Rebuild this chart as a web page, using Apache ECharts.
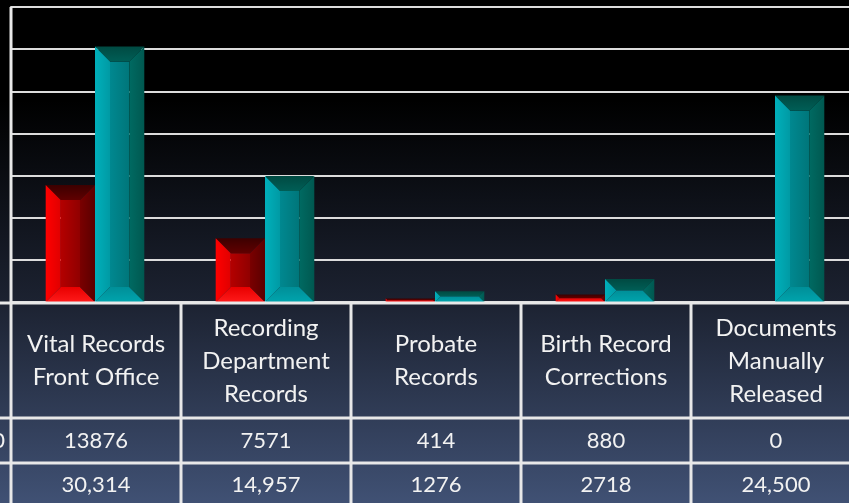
<!DOCTYPE html>
<html>
<head>
<meta charset="utf-8">
<script src="https://cdn.jsdelivr.net/npm/echarts@6/dist/echarts.min.js"></script>
<style>
html, body {margin: 0; padding: 0; background: #000;}
#box1 {width: 849px; height: 503px;}
</style>
</head>
<body>
<div id="box1"></div>
<script>
var categories = ['Vital Records\nFront Office', 'Recording\nDepartment\nRecords', 'Probate\nRecords', 'Birth Record\nCorrections', 'Documents\nManually\nReleased'];
var rowLabels = ['2010', '2011'];
var redValues = [13876, 7571, 414, 880, 0];
var tealValues = [30314, 14957, 1276, 2718, 24500];
var redText = ['13876', '7571', '414', '880', '0'];
var tealText = ['30,314', '14,957', '1276', '2718', '24,500'];

var myChart = echarts.init(document.getElementById('box1'));

function lg(x2, y2, c1, c2) {
    return new echarts.graphic.LinearGradient(0, 0, x2, y2, [{offset: 0, color: c1}, {offset: 1, color: c2}]);
}

var redFaces = {
    top: lg(0, 1, '#3c0000', '#600000'),
    bottom: lg(0, 1, '#e80000', '#ff1a1a'),
    left: lg(1, 0, '#ff0000', '#e00000'),
    right: lg(1, 0, '#7a0000', '#5a0000'),
    center: lg(1, 0, '#b40000', '#900000')
};
var tealFaces = {
    top: lg(0, 1, '#004a42', '#005e56'),
    bottom: lg(0, 1, '#008f98', '#00a4ad'),
    left: lg(1, 0, '#00b0bb', '#009aa4'),
    right: lg(1, 0, '#006a62', '#005850'),
    center: lg(1, 0, '#008890', '#00767a')
};

// bevelled bar, side -1 = left of the category centre, 0 = right
function bevelBar(side, faces) {
    return function (params, api) {
        var val = api.value(1);
        if (!val) return;
        var idx = api.value(0);
        var band = api.size([1, 0])[0];
        var top = api.coord([idx, val]);
        var base = api.coord([idx, 0]);
        var w = band * 0.29;
        var x0 = top[0] - 1 + side * w, x1 = x0 + w;
        var y0 = top[1], y1 = base[1];
        var b = Math.min(15, (y1 - y0) / 2, w / 2);
        function poly(pts, fill) {
            return {type: 'polygon', shape: {points: pts}, style: {fill: fill}};
        }
        return {
            type: 'group',
            children: [
                poly([[x0 + b, y0 + b], [x1 - b, y0 + b], [x1 - b, y1 - b], [x0 + b, y1 - b]], faces.center),
                poly([[x0, y0], [x1, y0], [x1 - b, y0 + b], [x0 + b, y0 + b]], faces.top),
                poly([[x0, y1], [x1, y1], [x1 - b, y1 - b], [x0 + b, y1 - b]], faces.bottom),
                poly([[x0, y0], [x0 + b, y0 + b], [x0 + b, y1 - b], [x0, y1]], faces.left),
                poly([[x1, y0], [x1 - b, y0 + b], [x1 - b, y1 - b], [x1, y1]], faces.right)
            ]
        };
    };
}

var gridLeft = 11, gridTop = 7, gridH = 295, gridW = 850;

option = {
    backgroundColor: new echarts.graphic.LinearGradient(0, 0, 0, 1, [
        {offset: 0, color: '#000000'},
        {offset: 0.2, color: '#000000'},
        {offset: 0.6, color: '#1c2231'},
        {offset: 1, color: '#405174'}
    ]),
    animation: false,
    grid: {left: gridLeft, top: gridTop, width: gridW, height: gridH, outerBoundsMode: 'none', containLabel: false},
    xAxis: {
        type: 'category',
        data: categories,
        axisLine: {show: false},
        axisTick: {show: false},
        axisLabel: {show: false}
    },
    yAxis: {
        type: 'value',
        min: 0,
        max: 35000,
        interval: 5000,
        axisLine: {show: true, lineStyle: {color: '#dcdcdc', width: 2}},
        axisTick: {show: false},
        axisLabel: {show: false},
        splitLine: {show: true, lineStyle: {color: '#dcdcdc', width: 2}}
    },
    series: [
        {
            type: 'custom',
            renderItem: bevelBar(-1, redFaces),
            encode: {x: 0, y: 1},
            data: redValues.map(function (v, i) { return [i, v]; })
        },
        {
            type: 'custom',
            renderItem: bevelBar(0, tealFaces),
            encode: {x: 0, y: 1},
            data: tealValues.map(function (v, i) { return [i, v]; })
        }
    ]
};
myChart.setOption(option);

// table under the plot
var rowTop = [gridTop + gridH, 417, 462, 503];
var g = [];
var band = myChart.convertToPixel({xAxisIndex: 0}, 1) - myChart.convertToPixel({xAxisIndex: 0}, 0);
var lineStyle = {stroke: '#e8e8e8', lineWidth: 3};
for (var r = 0; r < 3; r++) {
    g.push({type: 'line', shape: {x1: 0, y1: rowTop[r] + 1, x2: 849, y2: rowTop[r] + 1}, style: lineStyle, z: 10});
}
g.push({type: 'line', shape: {x1: gridLeft, y1: gridTop, x2: gridLeft, y2: 503}, style: lineStyle, z: 10});
for (var i = 0; i < categories.length; i++) {
    var cx = myChart.convertToPixel({xAxisIndex: 0}, i);
    g.push({type: 'line', shape: {x1: cx + band / 2, y1: rowTop[0], x2: cx + band / 2, y2: 503}, style: lineStyle, z: 10});
    g.push({type: 'text', x: cx, y: 361, z: 10, style: {text: categories[i], fill: '#f2f2f2', font: '24px Lato', lineHeight: 33, align: 'center', verticalAlign: 'middle'}});
    g.push({type: 'text', x: cx, y: 441, z: 10, style: {text: redText[i], fill: '#f2f2f2', font: '22px Lato', align: 'center', verticalAlign: 'middle'}});
    g.push({type: 'text', x: cx, y: 485, z: 10, style: {text: tealText[i], fill: '#f2f2f2', font: '22px Lato', align: 'center', verticalAlign: 'middle'}});
}
g.push({type: 'text', x: 5, y: 441, z: 10, style: {text: rowLabels[0], fill: '#f2f2f2', font: '22px Lato', align: 'right', verticalAlign: 'middle'}});
myChart.setOption({graphic: g});
</script>
</body>
</html>
